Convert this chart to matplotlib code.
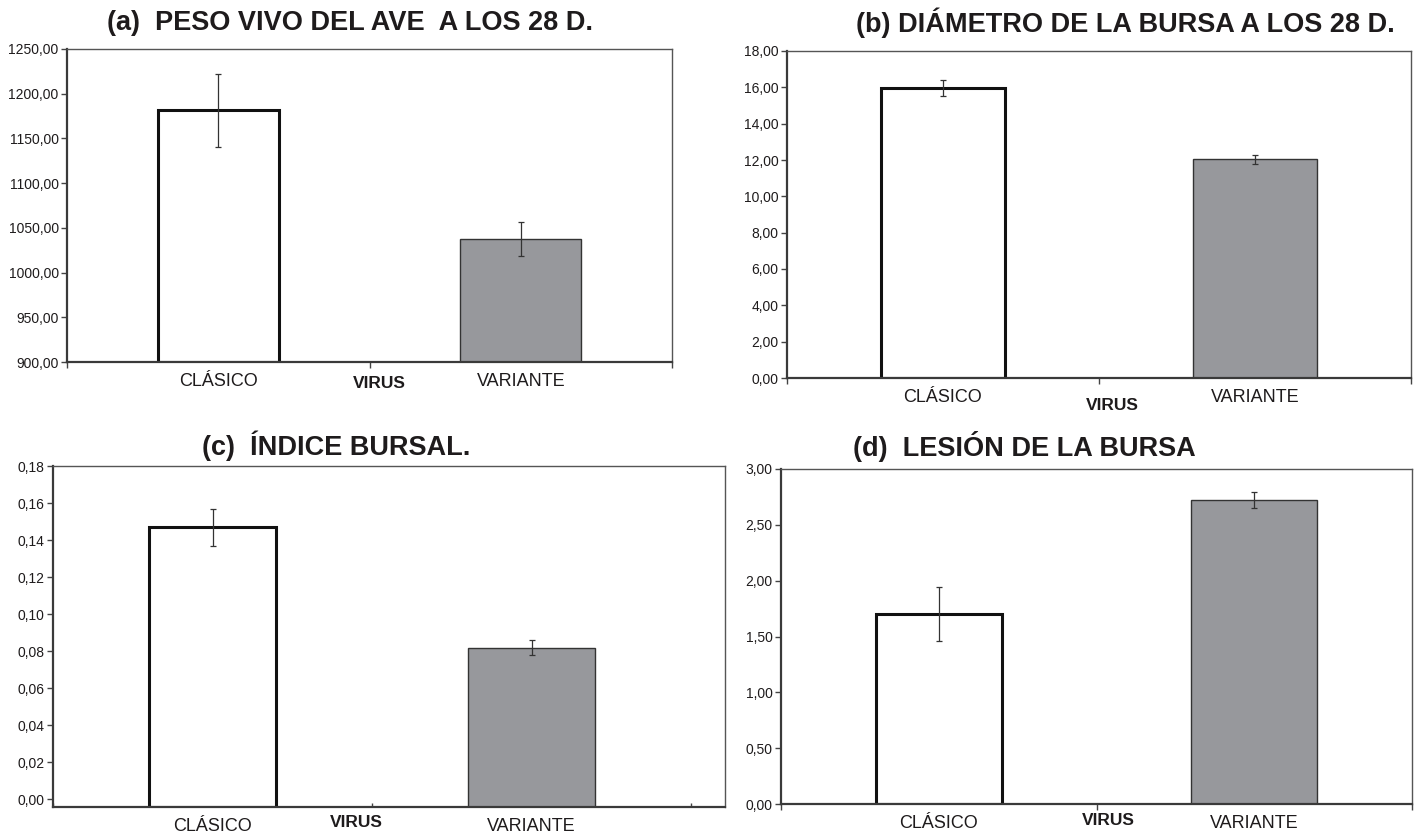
import matplotlib
matplotlib.use("Agg")
import matplotlib.pyplot as plt
import numpy as np

plt.rcParams['font.family'] = ['Liberation Sans', 'DejaVu Sans']

# Data
categorias = ['CLÁSICO', 'VARIANTE']
peso_vivo = [1181.5, 1038.0]
peso_vivo_err = [41.0, 19.0]
diametro = [15.98, 12.04]
diametro_err = [0.44, 0.25]
indice = [0.147, 0.0818]
indice_err = [0.010, 0.004]
lesion = [1.70, 2.725]
lesion_err = [0.24, 0.07]

W, H = 1418, 834
fig = plt.figure(figsize=(W / 100, H / 100), dpi=100)
fig.patch.set_facecolor('white')

TXT = '#1e1b1c'
GRIS = '#97989c'
TITLE_FONT = ['Liberation Sans Narrow', 'Liberation Sans', 'DejaVu Sans']


def axes_px(left, top, right, bottom):
    return fig.add_axes([left / W, 1 - bottom / H, (right - left) / W, (bottom - top) / H])


def coma(v, dec):
    return f'{v:.{dec}f}'.replace('.', ',')


def panel(ax, valores, errores, ylim, yticks, dec, xmax, virus_xy):
    base = ylim[0]
    x = np.arange(len(categorias))
    alturas = [v - base for v in valores]
    ax.bar(x[0], alturas[0], bottom=base, width=0.4, color='white',
           edgecolor='#111111', linewidth=2.2, zorder=2)
    ax.bar(x[1], alturas[1], bottom=base, width=0.4, color=GRIS,
           edgecolor='#333333', linewidth=1.0, zorder=2)
    ax.errorbar(x, valores, yerr=errores, fmt='none', ecolor='#333333',
                elinewidth=0.9, capsize=2, capthick=0.9, zorder=3)
    ax.set_xlim(-0.5, xmax)
    ax.set_ylim(*ylim)
    ax.set_yticks(yticks)
    ax.set_yticklabels([coma(t, dec) for t in yticks], color=TXT, fontsize=10)
    ax.tick_params(axis='y', length=4, width=1, color='#444444', pad=2)
    ax.set_xticks(x)
    ax.set_xticklabels(categorias, fontsize=13, color=TXT)
    ax.tick_params(axis='x', which='major', length=0, pad=8)
    ax.set_xticks([-0.5, 0.5, 1.5], minor=True)
    ax.tick_params(axis='x', which='minor', length=4, width=1, color='#444444')
    for s in ['left', 'bottom']:
        ax.spines[s].set_color('#3a3a3a')
        ax.spines[s].set_linewidth(1.6)
    for s in ['top', 'right']:
        ax.spines[s].set_color('#555555')
        ax.spines[s].set_linewidth(1.0)
    ax.text(virus_xy[0], virus_xy[1], 'VIRUS', transform=ax.transAxes,
            ha='center', va='center', fontsize=12.5, fontweight='bold', color=TXT)


# (a) Peso vivo
ax_a = axes_px(67, 49, 672, 362)
panel(ax_a, peso_vivo, peso_vivo_err, (900, 1250), np.arange(900, 1251, 50), 2, 1.5,
      (0.517, -0.070))

# (b) Diametro de la bursa
ax_b = axes_px(787, 51, 1411, 378)
panel(ax_b, diametro, diametro_err, (0, 18), np.arange(0, 18.1, 2), 2, 1.5,
      (0.522, -0.083))

# (c) Indice bursal
ax_c = axes_px(53, 466, 725, 807)
panel(ax_c, indice, indice_err, (-0.0043, 0.18), np.round(np.arange(0, 0.181, 0.02), 2), 2,
      -0.5 + 672 / 319, (0.452, -0.046))
ax_c.tick_params(axis='x', which='minor', direction='in', length=3)

# (d) Lesion de la bursa
ax_d = axes_px(781, 469, 1412, 804)
panel(ax_d, lesion, lesion_err, (0, 3), np.arange(0, 3.01, 0.5), 2, -0.5 + 631 / 320,
      (0.518, -0.049))

# Titulos
titulos = [
    ('(a)  PESO VIVO DEL AVE  A LOS 28 D.', 350, 23),
    ('(b) DIÁMETRO DE LA BURSA A LOS 28 D.', 1125, 23),
    ('(c)  ÍNDICE BURSAL.', 336, 446),
    ('(d)  LESIÓN DE LA BURSA', 1024, 447),
]
for txt, px, py in titulos:
    fig.text(px / W, 1 - py / H, txt, ha='center', va='center', fontsize=19.5,
             fontweight='bold', color=TXT, family=TITLE_FONT)

fig.savefig('out.png', dpi=100)
